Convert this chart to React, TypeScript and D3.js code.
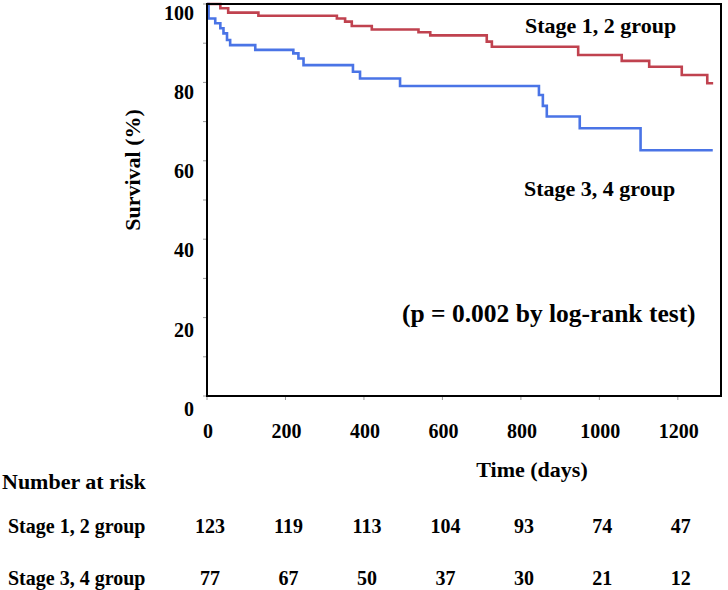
import React from "react";
import * as d3 from "d3";

// ---- data ----
const stage12Times = [0, 34, 54, 131, 331, 352, 369, 420, 539, 569, 713, 726, 946, 1057, 1127, 1210, 1275, 1290];
const stage12Surv = [100, 98.9, 97.8, 97.0, 96.3, 95.5, 94.4, 93.5, 92.8, 92.0, 90.4, 89.1, 87.0, 85.5, 84.0, 81.9, 79.8, 79.8];

const stage34Times = [0, 4, 21, 34, 42, 51, 59, 123, 220, 233, 246, 372, 390, 492, 846, 856, 866, 950, 1105, 1289];
const stage34Surv = [100, 96.3, 95.1, 93.8, 92.5, 90.8, 89.5, 88.3, 87.4, 86.1, 84.4, 82.7, 81.0, 79.1, 76.8, 74.0, 71.3, 68.3, 62.7, 62.7];

const xTickValues = [0, 200, 400, 600, 800, 1000, 1200];
const yTickLabels = [0, 20, 40, 60, 80, 100];
const yMinorTicks = [0, 10, 20, 30, 40, 50, 60, 70, 80, 90, 100];

const riskGroups = ["Stage 1, 2 group", "Stage 3, 4 group"];
const riskStage12 = [123, 119, 113, 104, 93, 74, 47];
const riskStage34 = [77, 67, 50, 37, 30, 21, 12];

const FONT = "'Liberation Serif', 'Times New Roman', Times, serif";
const RED = "#c0424f";
const BLUE = "#4a74e6";

export default function App() {
  const x = d3.scaleLinear().domain([0, 1310]).range([207, 721]);
  const y = d3.scaleLinear().domain([0, 100]).range([396, 4]);
  const yLab = d3.scaleLinear().domain([0, 100]).range([409, 12.7]);

  const line = d3
    .line<[number, number]>()
    .x((d) => x(d[0]))
    .y((d) => y(d[1]))
    .curve(d3.curveStepAfter);

  const red = line(stage12Times.map((t, i) => [t, stage12Surv[i]] as [number, number])) || "";
  const blue = line(stage34Times.map((t, i) => [t, stage34Surv[i]] as [number, number])) || "";

  const riskRows = [riskStage12, riskStage34];
  const riskY = [526, 578];

  return (
    <svg
      width={728}
      height={590}
      style={{ position: "absolute", left: 0, top: 0, background: "#fff" }}
      fontFamily={FONT}
      fontWeight="bold"
    >
      <rect x={0} y={0} width={728} height={590} fill="#fff" />
      {/* curves */}
      <path d={red} fill="none" stroke={RED} strokeWidth={2.6} />
      <path d={blue} fill="none" stroke={BLUE} strokeWidth={2.6} />

      {/* frame */}
      <rect x={x(0)} y={y(100)} width={x(1310) - x(0)} height={y(0) - y(100)} fill="none" stroke="#000" strokeWidth={2} />

      {/* y ticks */}
      {yMinorTicks.map((v) => (
        <line key={"yt" + v} x1={x(0) - 4} x2={x(0) - 1} y1={y(v)} y2={y(v)} stroke="#999" strokeWidth={1} />
      ))}
      {yTickLabels.map((v) => (
        <text key={"yl" + v} x={194} y={yLab(v)} dy="0.35em" textAnchor="end" fontSize={20}>
          {v}
        </text>
      ))}

      {/* x ticks */}
      {xTickValues.map((v) => (
        <line key={"xt" + v} x1={x(v)} x2={x(v)} y1={y(0) + 1} y2={y(0) + 4} stroke="#999" strokeWidth={1} />
      ))}
      {xTickValues.map((v) => (
        <text key={"xl" + v} x={x(v) + 1} y={431} dy="0.35em" textAnchor="middle" fontSize={20}>
          {v}
        </text>
      ))}

      {/* axis titles */}
      <text transform="translate(132,170) rotate(-90)" dy="0.35em" textAnchor="middle" fontSize={22}>
        Survival (%)
      </text>
      <text x={532} y={469} dy="0.35em" textAnchor="middle" fontSize={22}>
        Time (days)
      </text>

      {/* annotations */}
      <text x={525} y={25} dy="0.35em" fontSize={22}>
        Stage 1, 2 group
      </text>
      <text x={524} y={188} dy="0.35em" fontSize={22}>
        Stage 3, 4 group
      </text>
      <text x={402} y={313} dy="0.35em" fontSize={25.5}>
        (p = 0.002 by log-rank test)
      </text>

      {/* risk table */}
      <text x={2} y={481} dy="0.35em" fontSize={22}>
        Number at risk
      </text>
      {riskGroups.map((g, gi) => (
        <g key={g}>
          <text x={8} y={riskY[gi]} dy="0.35em" fontSize={20}>
            {g}
          </text>
          {riskRows[gi].map((n, i) => (
            <text key={i} x={x(xTickValues[i]) + 3} y={riskY[gi]} dy="0.35em" textAnchor="middle" fontSize={20}>
              {n}
            </text>
          ))}
        </g>
      ))}
    </svg>
  );
}
